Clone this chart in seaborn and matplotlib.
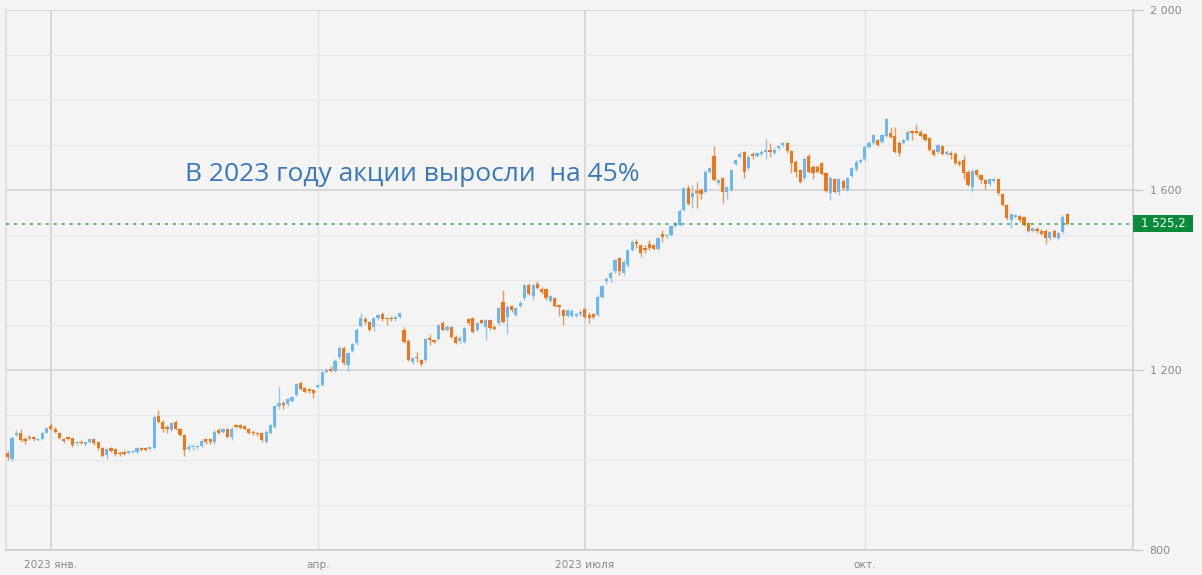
import numpy as np
import pandas as pd
import matplotlib
matplotlib.use("Agg")
import matplotlib.pyplot as plt
import seaborn as sns
from matplotlib.patches import Rectangle
from matplotlib.ticker import FixedLocator

# ---------------- data ----------------
opens = [1016, 1002, 1056, 1061, 1046, 1052, 1051, 1044, 1046, 1061,
         1075, 1070, 1060, 1046, 1051, 1048, 1037, 1041, 1036, 1039,
         1046, 1039, 1026, 1012, 1026, 1024, 1016, 1018, 1016, 1018,
         1018, 1026, 1026, 1024, 1026, 1098, 1085, 1074, 1067, 1085,
         1070, 1056, 1024, 1028, 1029, 1031, 1046, 1046, 1039, 1067,
         1063, 1068, 1052, 1078, 1077, 1075, 1068, 1063, 1061, 1059,
         1041, 1061, 1074, 1120, 1127, 1124, 1132, 1144, 1172, 1159,
         1157, 1155, 1163, 1167, 1196, 1202, 1198, 1228, 1250, 1211,
         1242, 1259, 1298, 1313, 1307, 1296, 1315, 1324, 1315, 1316,
         1313, 1318, 1290, 1265, 1218, 1229, 1222, 1222, 1272, 1267,
         1270, 1305, 1290, 1295, 1274, 1265, 1263, 1313, 1315, 1289,
         1311, 1296, 1311, 1296, 1304, 1352, 1318, 1342, 1322, 1342,
         1359, 1389, 1365, 1391, 1380, 1379, 1354, 1359, 1344, 1333,
         1320, 1320, 1320, 1324, 1335, 1322, 1324, 1322, 1363, 1398,
         1404, 1419, 1448, 1415, 1433, 1467, 1485, 1478, 1472, 1481,
         1478, 1470, 1502, 1497, 1500, 1520, 1522, 1556, 1604, 1585,
         1598, 1600, 1596, 1641, 1676, 1615, 1626, 1596, 1600, 1658,
         1674, 1684, 1648, 1679, 1676, 1681, 1684, 1688, 1683, 1693,
         1699, 1704, 1687, 1663, 1644, 1626, 1676, 1652, 1652, 1659,
         1637, 1594, 1624, 1596, 1621, 1600, 1631, 1646, 1663, 1668,
         1696, 1705, 1711, 1707, 1720, 1727, 1720, 1705, 1705, 1711,
         1731, 1731, 1730, 1724, 1715, 1689, 1685, 1698, 1681, 1683,
         1681, 1663, 1667, 1641, 1606, 1644, 1633, 1622, 1613, 1621,
         1624, 1591, 1567, 1533, 1541, 1542, 1539, 1526, 1510, 1513,
         1510, 1510, 1493, 1510, 1493, 1507, 1547]
highs = [1020, 1053, 1067, 1070, 1051, 1055, 1053, 1049, 1063, 1073,
         1083, 1073, 1062, 1049, 1054, 1050, 1043, 1044, 1041, 1050,
         1049, 1041, 1030, 1027, 1029, 1026, 1020, 1022, 1021, 1023,
         1029, 1029, 1029, 1030, 1098, 1111, 1090, 1078, 1085, 1088,
         1072, 1058, 1036, 1035, 1034, 1046, 1049, 1048, 1066, 1071,
         1072, 1071, 1073, 1081, 1080, 1078, 1072, 1066, 1063, 1062,
         1066, 1080, 1122, 1163, 1131, 1138, 1143, 1172, 1176, 1162,
         1160, 1158, 1170, 1198, 1204, 1210, 1224, 1253, 1253, 1241,
         1261, 1293, 1326, 1317, 1310, 1318, 1325, 1329, 1318, 1319,
         1320, 1330, 1296, 1268, 1230, 1240, 1225, 1271, 1280, 1270,
         1303, 1308, 1299, 1298, 1277, 1275, 1296, 1316, 1318, 1307,
         1314, 1314, 1314, 1299, 1340, 1378, 1344, 1345, 1340, 1353,
         1392, 1393, 1392, 1398, 1384, 1382, 1367, 1362, 1347, 1336,
         1336, 1335, 1327, 1333, 1338, 1328, 1327, 1366, 1390, 1407,
         1419, 1447, 1451, 1444, 1470, 1488, 1491, 1481, 1478, 1489,
         1481, 1496, 1511, 1503, 1522, 1529, 1557, 1607, 1611, 1611,
         1618, 1604, 1644, 1651, 1698, 1625, 1629, 1610, 1647, 1670,
         1684, 1687, 1677, 1685, 1685, 1690, 1713, 1704, 1693, 1701,
         1706, 1707, 1690, 1666, 1647, 1673, 1679, 1655, 1655, 1662,
         1640, 1632, 1627, 1627, 1624, 1629, 1651, 1666, 1670, 1699,
         1708, 1725, 1714, 1725, 1760, 1740, 1740, 1708, 1714, 1733,
         1734, 1747, 1733, 1727, 1718, 1692, 1703, 1701, 1690, 1686,
         1684, 1666, 1677, 1644, 1646, 1647, 1636, 1625, 1627, 1627,
         1627, 1594, 1570, 1547, 1547, 1545, 1542, 1529, 1518, 1517,
         1513, 1513, 1510, 1513, 1507, 1544, 1550]
lows = [1000, 998, 1053, 1041, 1035, 1044, 1043, 1042, 1044, 1059,
        1067, 1060, 1047, 1038, 1044, 1030, 1033, 1035, 1031, 1037,
        1034, 1023, 1006, 1003, 1017, 1010, 1010, 1011, 1014, 1016,
        1016, 1020, 1020, 1022, 1024, 1082, 1062, 1060, 1064, 1067,
        1053, 1009, 1020, 1022, 1025, 1029, 1036, 1036, 1036, 1057,
        1060, 1049, 1045, 1072, 1069, 1066, 1057, 1055, 1054, 1040,
        1038, 1058, 1072, 1113, 1113, 1120, 1129, 1142, 1155, 1149,
        1150, 1137, 1160, 1164, 1193, 1195, 1195, 1225, 1212, 1198,
        1239, 1256, 1295, 1303, 1287, 1286, 1312, 1310, 1300, 1310,
        1310, 1315, 1259, 1219, 1214, 1218, 1210, 1218, 1255, 1259,
        1267, 1287, 1287, 1271, 1258, 1259, 1260, 1301, 1282, 1286,
        1302, 1267, 1290, 1288, 1301, 1304, 1281, 1330, 1319, 1339,
        1356, 1367, 1355, 1380, 1370, 1356, 1351, 1339, 1320, 1300,
        1317, 1317, 1317, 1321, 1315, 1305, 1314, 1319, 1360, 1391,
        1395, 1416, 1412, 1412, 1430, 1464, 1472, 1452, 1461, 1467,
        1466, 1467, 1485, 1494, 1497, 1517, 1519, 1553, 1566, 1560,
        1559, 1580, 1593, 1638, 1619, 1612, 1571, 1580, 1597, 1655,
        1671, 1627, 1645, 1670, 1673, 1676, 1670, 1673, 1680, 1690,
        1696, 1682, 1637, 1630, 1615, 1622, 1638, 1625, 1638, 1633,
        1595, 1578, 1593, 1588, 1601, 1597, 1628, 1643, 1660, 1665,
        1693, 1702, 1697, 1704, 1717, 1715, 1682, 1675, 1702, 1708,
        1712, 1724, 1717, 1708, 1686, 1675, 1682, 1678, 1678, 1669,
        1656, 1654, 1625, 1608, 1595, 1630, 1615, 1602, 1610, 1618,
        1590, 1564, 1534, 1515, 1538, 1530, 1519, 1507, 1507, 1505,
        1499, 1481, 1490, 1493, 1490, 1504, 1522]
closes = [1007, 1050, 1059, 1044, 1042, 1048, 1047, 1046, 1061, 1071,
          1069, 1062, 1050, 1042, 1046, 1033, 1041, 1037, 1039, 1046,
          1037, 1027, 1010, 1024, 1019, 1013, 1013, 1014, 1019, 1021,
          1027, 1022, 1023, 1028, 1096, 1084, 1068, 1068, 1082, 1070,
          1056, 1022, 1030, 1032, 1032, 1043, 1039, 1039, 1063, 1059,
          1070, 1052, 1070, 1074, 1072, 1070, 1061, 1059, 1057, 1044,
          1063, 1078, 1120, 1126, 1122, 1136, 1141, 1170, 1157, 1152,
          1154, 1150, 1167, 1196, 1201, 1198, 1221, 1250, 1215, 1238,
          1258, 1290, 1315, 1307, 1290, 1315, 1322, 1313, 1313, 1313,
          1317, 1326, 1263, 1222, 1227, 1226, 1213, 1268, 1267, 1263,
          1300, 1290, 1296, 1274, 1261, 1272, 1293, 1304, 1285, 1304,
          1305, 1311, 1293, 1291, 1337, 1307, 1341, 1333, 1337, 1350,
          1389, 1370, 1389, 1383, 1374, 1359, 1364, 1342, 1340, 1320,
          1333, 1332, 1324, 1330, 1318, 1315, 1318, 1363, 1387, 1402,
          1416, 1444, 1419, 1441, 1467, 1485, 1480, 1461, 1467, 1472,
          1470, 1493, 1495, 1500, 1519, 1526, 1554, 1604, 1569, 1593,
          1593, 1591, 1641, 1648, 1622, 1622, 1596, 1607, 1644, 1667,
          1681, 1641, 1674, 1676, 1682, 1684, 1688, 1685, 1690, 1698,
          1704, 1687, 1659, 1641, 1618, 1670, 1641, 1638, 1641, 1636,
          1598, 1626, 1596, 1624, 1604, 1626, 1648, 1663, 1667, 1696,
          1705, 1722, 1700, 1722, 1757, 1718, 1685, 1683, 1711, 1730,
          1727, 1727, 1720, 1711, 1689, 1678, 1700, 1681, 1685, 1678,
          1659, 1657, 1638, 1611, 1643, 1633, 1622, 1613, 1624, 1624,
          1593, 1567, 1537, 1547, 1544, 1533, 1522, 1510, 1515, 1508,
          1502, 1493, 1507, 1496, 1504, 1541, 1525.2]

exchange_holidays = ["2023-01-02", "2023-02-23", "2023-03-08", "2023-05-01",
                     "2023-05-08", "2023-05-09", "2023-11-06"]
tick_months = [1, 4, 7, 10]
tick_labels = ["2023 янв.", "апр.", "2023 июля", "окт."]
y_major = [800, 1200, 1600, 2000]
y_major_labels = ["800", "1 200", "1 600", "2 000"]
last_price = 1525.2
last_price_label = "1 525,2"
title_text = "В 2023 году акции выросли  на 45%"

# ---------------- build frame ----------------
dates = pd.bdate_range("2022-12-19", "2023-12-31", freq="C",
                       holidays=exchange_holidays)[:len(opens)]
df = pd.DataFrame({"date": dates, "open": opens, "high": highs,
                   "low": lows, "close": closes})
df["x"] = np.arange(len(df))
df["up"] = df["close"] >= df["open"]

# ---------------- style ----------------
sns.set_theme(style="white")
plt.rcParams["font.family"] = ["DejaVu Sans"]

BG = "#f4f4f4"
BLUE = "#6cb6f3"
ORANGE = "#f07518"

W, H = 1202, 575
fig = plt.figure(figsize=(W / 100, H / 100), dpi=100, facecolor=BG)
ax = fig.add_axes([6 / W, 25 / H, 1127 / W, 540 / H])
ax.set_facecolor(BG)

ax.set_ylim(800, 2000)
ax.set_xlim(-0.4, len(df) - 1 + 15.3)

# horizontal grid
ax.yaxis.set_major_locator(FixedLocator(y_major))
ax.yaxis.set_minor_locator(FixedLocator([v for v in range(900, 2000, 100) if v not in y_major]))
ax.grid(which="major", axis="y", color="#d6d6d6", lw=1.3)
ax.grid(which="minor", axis="y", color="#e8e8e8", lw=1.0)
ax.set_axisbelow(True)

# vertical grid at quarter starts
tick_pos = [int(df.index[(df["date"].dt.month == m) & (df["date"].dt.year == 2023)][0])
            for m in tick_months]
for p, lab in zip(tick_pos, tick_labels):
    ax.axvline(p, color="#d4d4d4" if lab.startswith("2023") else "#e6e6e6",
               lw=1.3 if lab.startswith("2023") else 1.0, zorder=0)
ax.set_xticks(tick_pos)
ax.set_xticklabels(tick_labels)

# candles: wicks then bodies
up = df[df["up"]]
dn = df[~df["up"]]
ax.vlines(up["x"], up["low"], up["high"], color=BLUE, lw=1.0, alpha=0.75, zorder=2)
ax.vlines(dn["x"], dn["low"], dn["high"], color=ORANGE, lw=1.0, alpha=0.75, zorder=2)
for sub, col in ((up, BLUE), (dn, ORANGE)):
    bottom = np.minimum(sub["open"], sub["close"])
    height = np.maximum((sub["close"] - sub["open"]).abs(), 3)
    ax.bar(sub["x"], height, bottom=bottom, width=0.74, color=col,
           edgecolor="none", zorder=3)

# last price dotted line
ax.axhline(last_price, color="#2ea356", lw=1.1, linestyle=(0, (2, 3.2)), zorder=4)

# axes decoration
ax.yaxis.tick_right()
ax.set_yticklabels(y_major_labels)
ax.tick_params(axis="y", which="major", direction="out", length=7, width=1,
               color="#cccccc", labelcolor="#8a8a8a", labelsize=8, pad=5)
ax.tick_params(axis="y", which="minor", length=0)
ax.tick_params(axis="x", length=0, labelcolor="#8a8a8a", labelsize=7.6, pad=7)
ax.spines["top"].set_visible(False)
ax.spines["right"].set_color("#d0d0d0")
ax.spines["right"].set_linewidth(1.2)
ax.spines["bottom"].set_color("#cfcfcf")
ax.spines["bottom"].set_linewidth(1.2)
ax.spines["left"].set_color("#dedede")
ax.set_xlabel("")
ax.set_ylabel("")

# annotation text
fig.text(185 / W, 1 - 181 / H, title_text, color="#3b78b9",
         fontsize=19, family=["Open Sans", "DejaVu Sans"], va="baseline", ha="left")

# last price label box
fig.patches.append(Rectangle((1133 / W, 1 - 232 / H), 60 / W, 17 / H,
                             transform=fig.transFigure, facecolor="#0a8b3c",
                             edgecolor="none", zorder=5))
fig.text(1163 / W, 1 - 224 / H, last_price_label, color="white", fontsize=8.5,
         ha="center", va="center", zorder=6)

fig.savefig("out.png", dpi=100, facecolor=BG)
